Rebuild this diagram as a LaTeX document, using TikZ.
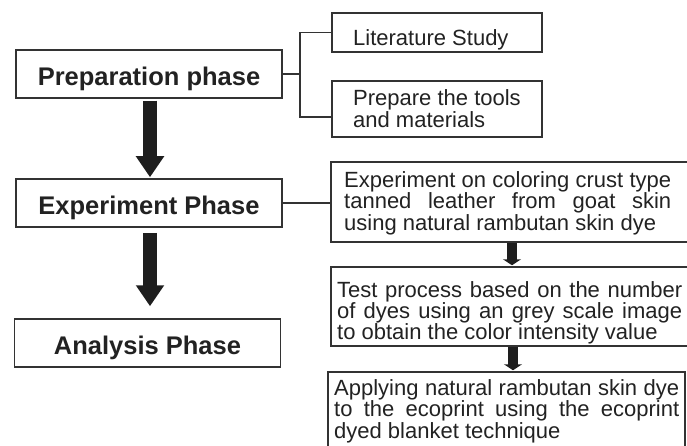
\documentclass[tikz,border=0pt]{standalone}
\usepackage{fontspec}
\setmainfont{Liberation Sans}
\usetikzlibrary{arrows.meta}
\definecolor{lnc}{HTML}{333333}
\definecolor{txc}{HTML}{222222}
\definecolor{arc}{HTML}{1E1E1E}
\newcommand{\jl}[2]{\makebox[#1][s]{#2}}
\tikzset{
  box/.style={draw=lnc, line width=1.5pt, fill=white, inner sep=0pt},
  phase/.style={box, minimum width=266pt, minimum height=48pt, font=\fontsize{25.5}{28}\selectfont\bfseries, text=txc, text height=23pt, text depth=0pt},
  dtext/.style={inner sep=0pt, align=left, text=txc, font=\fontsize{22}{19.3}\selectfont},
  link/.style={draw=lnc, line width=1.5pt},
  bigarrow/.style={draw=arc, line width=14pt, -{Triangle[width=27pt,length=21pt]}},
  smallarrow/.style={draw=arc, line width=10pt, -{Triangle[width=18pt,length=6pt]}}
}
\begin{document}
\begin{tikzpicture}[x=1pt,y=-1pt]
\useasboundingbox (0,0) rectangle (687,446);
% left phases
\node[phase] (prep) at (149,74) {Preparation phase};
\node[phase] (exp) at (149,203) {Experiment Phase};
\node[phase] (ana) at (147.5,343) {Analysis Phase};
% right boxes
\node[box, minimum width=210pt, minimum height=39pt] (lit) at (437,32.5) {};
\node[dtext, anchor=base west] (litt) at (353,45.5) {Literature Study};
\node[box, minimum width=210pt, minimum height=56pt] (tools) at (437,109) {};
\node[dtext, anchor=base west, font=\fontsize{22}{21.3}\selectfont] (toolst) at (353,127.3) {Prepare the tools\\and materials};
\node[box, minimum width=369pt, minimum height=80pt] (expd) at (515.5,202) {};
\node[dtext, anchor=base west] (expdt) at (344,230.5) {\jl{327pt}{Experiment on coloring crust type}\\\jl{327pt}{tanned leather from goat skin}\\using natural rambutan skin dye};
\node[box, minimum width=369pt, minimum height=79pt] (test) at (515.5,306.5) {};
\node[dtext, anchor=base west, font=\fontsize{22}{20.6}\selectfont] (testt) at (337,339) {\jl{345pt}{Test process based on the number}\\\jl{345pt}{of dyes using an grey scale image}\\to obtain the color intensity value};
\node[box, minimum width=357pt, minimum height=98pt] (appl) at (506.5,421) {};
\node[dtext, anchor=base west, font=\fontsize{22}{19.5}\selectfont] (applt) at (334,438.5) {\jl{345pt}{Applying natural rambutan skin dye}\\\jl{345pt}{to the ecoprint using the ecoprint}\\dyed blanket technique};
% connectors
\coordinate (j) at (300,74);
\draw[link] (prep.east) -- (j);
\draw[link] (lit.west) -| (j);
\draw[link] (j) |- ([yshift=-8pt]tools.west);
\draw[link] (exp.east) -- (exp.east -| expd.west);
% arrows
\coordinate (ca) at (150,0);
\coordinate (sa) at (512,0);
\coordinate (sb) at (513,0);
\draw[bigarrow, shorten <=2pt, shorten >=1pt] (prep.south -| ca) -- (exp.north -| ca);
\draw[bigarrow, shorten <=5pt, shorten >=12pt] (exp.south -| ca) -- (ana.north -| ca);
\draw[smallarrow, shorten >=1pt] (expd.south -| sa) -- (test.north -| sa);
\draw[smallarrow, shorten >=1pt] (test.south -| sb) -- (appl.north -| sb);
\end{tikzpicture}
\end{document}
